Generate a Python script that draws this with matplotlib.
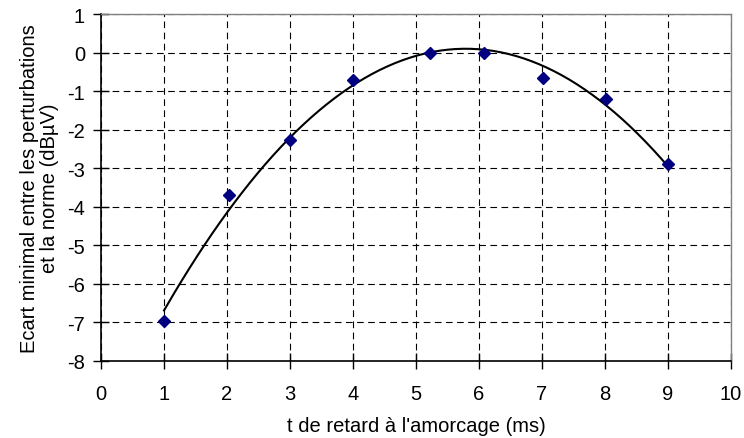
import numpy as np
import matplotlib.pyplot as plt

plt.rcParams['font.family'] = ['Liberation Sans', 'DejaVu Sans']
plt.rcParams['axes.unicode_minus'] = False

# mesures
t_retard = [1.0, 2.03, 3.0, 4.0, 5.22, 6.08, 7.02, 8.02, 9.0]
ecart = [-6.97, -3.69, -2.28, -0.70, -0.01, -0.02, -0.66, -1.2, -2.89]

x_ticks = list(range(0, 11))
y_ticks = list(range(-8, 2))

fig = plt.figure(figsize=(7.44, 4.39), dpi=100)
ax = fig.add_axes([0.1358, 0.1754, 0.9825 - 0.1358, 0.9658 - 0.1754])

# courbe de tendance polynomiale (ordre 2)
coef = np.polyfit(t_retard, ecart, 2)
xs = np.linspace(min(t_retard), max(t_retard), 200)
ax.plot(xs, np.polyval(coef, xs), color='black', lw=1.5, zorder=3)

ax.plot(t_retard, ecart, linestyle='none', marker='D', markersize=6.5,
        color='#000080', zorder=4)

ax.set_xlim(0, 10)
ax.set_ylim(-8, 1)
ax.set_xticks(x_ticks)
ax.set_yticks(y_ticks)
ax.grid(True, color='black', linestyle=(0, (6, 4)), linewidth=0.8)
ax.set_axisbelow(True)

for s in ['top', 'right']:
    ax.spines[s].set_color('#808080')
    ax.spines[s].set_linewidth(1)
for s in ['left', 'bottom']:
    ax.spines[s].set_color('black')
    ax.spines[s].set_linewidth(1.2)

ax.tick_params(labelsize=14.5, length=11, width=1, direction='inout')
ax.tick_params(axis='x', pad=11)
ax.tick_params(axis='y', pad=6)
ax.set_xlabel("t de retard à l'amorcage (ms)", fontsize=14.5, labelpad=9.5)
ax.set_ylabel("Ecart minimal entre les perturbations\net la norme (dBµV)",
              fontsize=14.5, labelpad=6, linespacing=1.05)

plt.savefig('out.png', dpi=100)
